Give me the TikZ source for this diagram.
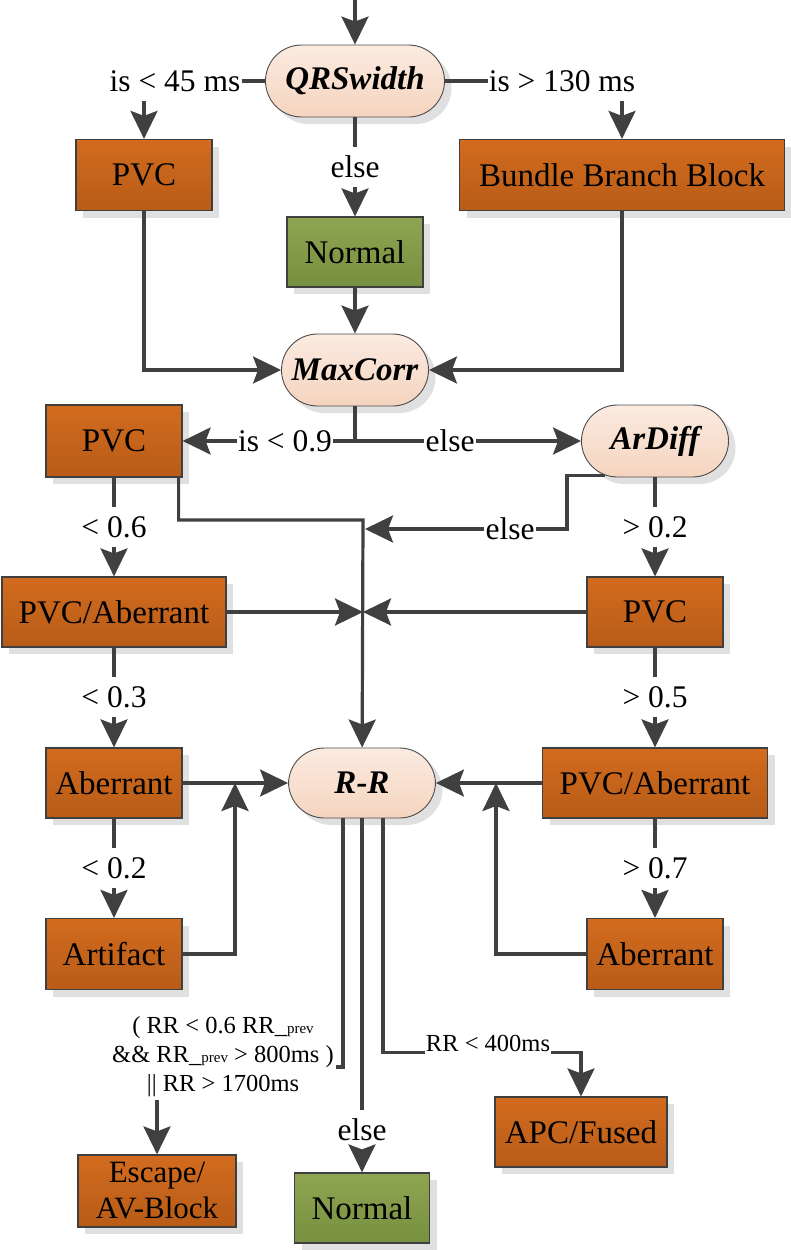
\documentclass[tikz,border=0pt]{standalone}
\usepackage{fontspec}
\setmainfont{Liberation Serif}
\usepackage{tikz}
\usetikzlibrary{arrows.meta}
\usetikzlibrary{shadows}
\definecolor{lncol}{HTML}{404040}
\definecolor{edgecol}{HTML}{3F3F3F}
\definecolor{boxtop}{HTML}{D26B1E}
\definecolor{boxbot}{HTML}{B85C18}
\definecolor{oktop}{HTML}{8FA552}
\definecolor{okbot}{HTML}{76903F}
\definecolor{testtop}{HTML}{FBEBE1}
\definecolor{testbot}{HTML}{F5D4BF}
\newcommand\bxfont{\fontsize{33}{38}\selectfont}
\newcommand\lbfont{\fontsize{31.5}{34}\selectfont}
\newcommand\smfont{\fontsize{24.5}{29}\selectfont}
\newcommand\prevtxt{\_{\fontsize{15}{15}\selectfont prev}}

\begin{document}
\begin{tikzpicture}[x=1pt,y=-1pt,
	ln/.style={draw=lncol,line width=3.2pt},
	arr/.style={ln,-{Stealth[length=28pt,width=27pt,inset=5pt]}},
	box/.style={draw=edgecol,line width=1.2pt,top color=boxtop,bottom color=boxbot,
		minimum width=136pt,minimum height=71pt,inner sep=0pt,font=\bxfont,
		drop shadow={shadow xshift=7pt,shadow yshift=-7pt,fill=black!12,opacity=1}},
	okbox/.style={box,top color=oktop,bottom color=okbot},
	test/.style={box,draw=black!70,line width=0.9pt,rounded corners=36pt,top color=testtop,bottom color=testbot,
		minimum width=147pt,minimum height=72pt,font=\bxfont\bfseries\itshape},
	lbl/.style={font=\lbfont,inner xsep=1pt,inner ysep=9pt}
	]
	\useasboundingbox (0,0) rectangle (791,1250);
	\coordinate (top) at (355,0);
	\node[test,minimum width=179pt] (qrs) at (355,81) {QRSwidth};
	\node[box] (pvc1) at (144,175) {PVC};
	\node[box,minimum width=325pt] (bbb) at (622,175) {Bundle Branch Block};
	\node[okbox,minimum height=70pt] (norm1) at (355,252) {Normal};
	\node[test] (maxc) at (355,370) {MaxCorr};
	\node[box,minimum height=72pt] (pvc2) at (114,441) {PVC};
	\node[test] (ardiff) at (655,441) {ArDiff};
	\node[box,minimum width=224pt,minimum height=70pt] (pvcab1) at (114,612) {PVC/Aberrant};
	\node[box,minimum height=70pt] (pvc3) at (655,612) {PVC};
	\node[box,minimum height=70pt] (aber1) at (114,783) {Aberrant};
	\node[test,minimum height=70pt] (rr) at (362,783) {R-R};
	\node[box,minimum width=225pt,minimum height=70pt] (pvcab2) at (655,783) {PVC/Aberrant};
	\node[box] (artif) at (114,954) {Artifact};
	\node[box] (aber2) at (655,954) {Aberrant};
	\node[box,minimum width=158pt,minimum height=72pt,align=center,font=\fontsize{31}{36}\selectfont] (escape) at (157,1191) {Escape/\\AV-Block};
	\node[okbox,minimum width=135pt,minimum height=70pt] (norm2) at (362,1208) {Normal};
	\node[box,minimum width=172pt,minimum height=70pt] (apc) at (581,1132) {APC/Fused};

	\node[lbl] (lt45) at (175,81) {is < 45 ms};
	\node[lbl] (gt130) at (562,81) {is > 130 ms};
	\node[lbl] (else1) at (355,167) {else};
	\node[lbl] (lt09) at (285,441) {is < 0.9};
	\node[lbl] (else2) at (450,441) {else};
	\node[lbl] (else3) at (510,529) {else};
	\node[lbl] (lt06) at (114,527) {< 0.6};
	\node[lbl] (gt02) at (655,527) {> 0.2};
	\node[lbl] (lt03) at (114,697) {< 0.3};
	\node[lbl] (gt05) at (655,697) {> 0.5};
	\node[lbl] (lt02) at (114,868) {< 0.2};
	\node[lbl] (gt07) at (655,868) {> 0.7};
	\node[lbl,font=\smfont,align=center,inner ysep=3pt] (cond) at (223,1057) {( RR < 0.6 RR\prevtxt\\\&\& RR\prevtxt{} > 800ms )\\|| RR > 1700ms};
	\node[lbl] (else4) at (362,1130) {else};
	\node[lbl,font=\smfont,inner ysep=1pt] (lt400) at (488,1043) {RR < 400ms};

	\coordinate (m1) at (363,520);
	\coordinate (b1) at (567,529);
	\coordinate (b2) at (235,783);
	\coordinate (b3) at (496,783);
	\coordinate (b4) at (336,1067);

	\draw[arr] (top) -- (qrs);
	\draw[ln] (qrs) -- (lt45);
	\draw[ln] (qrs) -- (gt130);
	\draw[arr] (lt45.south -| pvc1) -- (pvc1);
	\draw[arr] (gt130.south -| bbb) -- (bbb);
	\draw[ln] (qrs) -- (else1);
	\draw[arr] (else1) -- (norm1);
	\draw[arr] (norm1) -- (maxc);
	\draw[arr] (pvc1) |- (maxc);
	\draw[arr] (bbb) |- (maxc);
	\draw[ln] (maxc) -- (maxc |- lt09);
	\draw[ln] (maxc |- lt09) -- (lt09);
	\draw[arr] (lt09) -- (pvc2);
	\draw[ln] (maxc |- lt09) -- (else2);
	\draw[arr] (else2) -- (ardiff);
	\draw[ln] ([xshift=-50pt,yshift=2pt]ardiff.south) -| (b1) -- (else3);
	\draw[arr] (else3) -- ([xshift=2pt]else3 -| m1);
	\draw[arr] ([xshift=-4pt]pvc2.south east) |- (m1) -- (rr);
	\draw[ln] (pvc2) -- (lt06);
	\draw[arr] (lt06) -- (pvcab1);
	\draw[ln] (ardiff) -- (gt02);
	\draw[arr] (gt02) -- (pvc3);
	\draw[arr] (pvcab1) -- (pvcab1 -| m1);
	\draw[arr] (pvc3) -- (pvc3 -| m1);
	\draw[ln] (pvcab1) -- (lt03);
	\draw[arr] (lt03) -- (aber1);
	\draw[ln] (pvc3) -- (gt05);
	\draw[arr] (gt05) -- (pvcab2);
	\draw[arr] (aber1) -- (rr);
	\draw[arr] (pvcab2) -- (rr);
	\draw[ln] (aber1) -- (lt02);
	\draw[arr] (lt02) -- (artif);
	\draw[ln] (pvcab2) -- (gt07);
	\draw[arr] (gt07) -- (aber2);
	\draw[arr] (artif) -| (b2);
	\draw[arr] (aber2) -| (b3);
	\draw[ln] ([xshift=-19pt]rr.south) |- (b4);
	\draw[arr] (cond.south -| escape) -- (escape);
	\draw[ln] (rr) -- (else4);
	\draw[arr] (else4) -- (norm2);
	\draw[ln] ([xshift=21pt]rr.south) |- (lt400.south west);
	\draw[arr] (lt400.south east) -| (apc);
\end{tikzpicture}
\end{document}
